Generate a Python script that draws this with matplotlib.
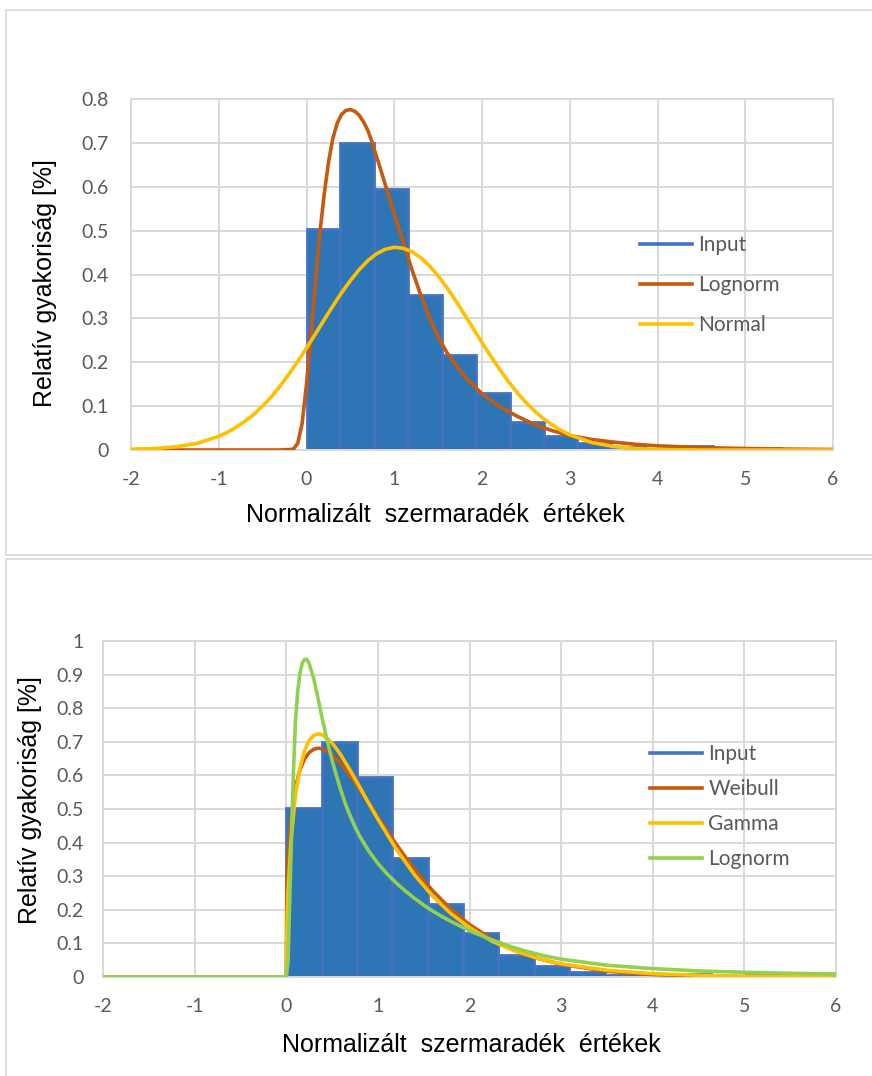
import matplotlib
matplotlib.use("Agg")
import matplotlib.pyplot as plt
from matplotlib.lines import Line2D
from matplotlib.patches import Rectangle
from matplotlib.ticker import FuncFormatter

plt.rcParams["axes.unicode_minus"] = False

# histogram of the normalised residuals (same in both panels)
bin_edges = [0.0, 0.386, 0.772, 1.158, 1.544, 1.93, 2.316, 2.702, 3.088,
             3.474, 3.86, 4.246, 4.632, 5.018, 5.404, 5.79, 6.176]
hist_vals = [0.503, 0.699, 0.594, 0.354, 0.216, 0.130, 0.064, 0.033,
             0.016, 0.007, 0.003, 0.009, 0.002, 0.005, 0.002, 0.001]

# top panel: fitted curves
normal_x = [-2, -1.75, -1.5, -1.25, -1, -0.9, -0.8, -0.7, -0.6, -0.5, -0.4,
            -0.3, -0.2, -0.1, 0, 0.1, 0.2, 0.3, 0.4, 0.5, 0.6, 0.7, 0.8, 0.9,
            1.0, 1.1, 1.2, 1.3, 1.4, 1.5, 1.6, 1.7, 1.8, 1.9, 2.0, 2.1, 2.2,
            2.3, 2.4, 2.5, 2.6, 2.7, 2.8, 2.9, 3.0, 3.25, 3.5, 3.75, 4.0, 4.5,
            5.0, 6.0]
normal_y = [0.002, 0.003, 0.007, 0.015, 0.031, 0.0405, 0.052, 0.0655, 0.081,
            0.1004, 0.121, 0.146, 0.173, 0.2017, 0.2324, 0.264, 0.2964, 0.328,
            0.3585, 0.386, 0.411, 0.432, 0.4474, 0.4576, 0.462, 0.460, 0.4522,
            0.4387, 0.42, 0.3968, 0.37, 0.3404, 0.309, 0.277, 0.245, 0.2138,
            0.184, 0.1565, 0.131, 0.1087, 0.0887, 0.0716, 0.057, 0.0447,
            0.0347, 0.017, 0.008, 0.003, 0.001, 0.0, 0.0, 0.0]

logn_top_x = [-2, -0.3, -0.2, -0.15, -0.1, -0.05, 0, 0.05, 0.1, 0.15, 0.2,
              0.25, 0.3, 0.35, 0.4, 0.45, 0.5, 0.55, 0.6, 0.65, 0.7, 0.75,
              0.8, 0.85, 0.9, 0.95, 1.0, 1.1, 1.2, 1.3, 1.4, 1.5, 1.6, 1.8,
              2.0, 2.2, 2.4, 2.6, 2.8, 3.0, 3.25, 3.5, 3.75, 4.0, 4.5, 5.0,
              5.5, 6.0]
logn_top_y = [0, 0, 0.001, 0.002, 0.015, 0.06, 0.15, 0.26, 0.38, 0.49, 0.58,
              0.655, 0.71, 0.745, 0.765, 0.774, 0.776, 0.772, 0.763, 0.748,
              0.728, 0.70, 0.668, 0.636, 0.603, 0.571, 0.538, 0.475, 0.412,
              0.354, 0.302, 0.258, 0.222, 0.168, 0.128, 0.099, 0.077, 0.058,
              0.044, 0.033, 0.024, 0.018, 0.013, 0.0095, 0.0055, 0.0033,
              0.002, 0.0012]

# bottom panel: fitted curves
weib_x = [-2, 0, 0.005, 0.01, 0.02, 0.05, 0.1, 0.15, 0.2, 0.25, 0.3, 0.35,
          0.4, 0.5, 0.6, 0.7, 0.8, 0.9, 1.0, 1.2, 1.4, 1.6, 1.8, 2.0, 2.25,
          2.5, 2.75, 3.0, 3.5, 4.0, 4.5, 5.0, 5.5, 6.0]
weib_y = [0, 0, 0.2, 0.295, 0.36, 0.47, 0.564, 0.617, 0.649, 0.668, 0.678,
          0.681, 0.679, 0.662, 0.633, 0.598, 0.559, 0.518, 0.476, 0.395, 0.32,
          0.256, 0.201, 0.156, 0.112, 0.079, 0.055, 0.038, 0.017, 0.0074,
          0.0031, 0.0012, 0.0005, 0.0002]

gamma_x = [-2, 0, 0.01, 0.02, 0.05, 0.1, 0.15, 0.2, 0.25, 0.3, 0.35, 0.4,
           0.5, 0.6, 0.7, 0.8, 0.9, 1.0, 1.2, 1.4, 1.6, 1.8, 2.0, 2.25, 2.5,
           2.75, 3.0, 3.5, 4.0, 4.5, 5.0, 5.5, 6.0]
gamma_y = [0, 0, 0.179, 0.256, 0.401, 0.541, 0.623, 0.674, 0.704, 0.719,
           0.724, 0.720, 0.697, 0.659, 0.614, 0.566, 0.517, 0.470, 0.381,
           0.304, 0.240, 0.188, 0.147, 0.106, 0.077, 0.055, 0.039, 0.020,
           0.0098, 0.0049, 0.0024, 0.0012, 0.0006]

logn_bot_x = [-2, 0, 0.02, 0.04, 0.06, 0.08, 0.1, 0.125, 0.15, 0.175, 0.2,
              0.225, 0.25, 0.3, 0.35, 0.4, 0.45, 0.5, 0.55, 0.6, 0.65, 0.7,
              0.75, 0.8, 0.9, 1.0, 1.1, 1.2, 1.3, 1.4, 1.5, 1.6, 1.7, 1.8,
              2.0, 2.2, 2.4, 2.6, 2.8, 3.0, 3.5, 4.0, 4.5, 5.0, 5.5, 6.0]
logn_bot_y = [0, 0, 0.05, 0.25, 0.45, 0.62, 0.76, 0.85, 0.905, 0.935, 0.945,
              0.945, 0.933, 0.888, 0.825, 0.76, 0.70, 0.645, 0.597, 0.552,
              0.512, 0.478, 0.447, 0.42, 0.375, 0.338, 0.307, 0.28, 0.256,
              0.234, 0.214, 0.196, 0.18, 0.165, 0.138, 0.115, 0.095, 0.078,
              0.064, 0.053, 0.035, 0.025, 0.018, 0.014, 0.011, 0.009]

x_label = "Normalizált  szermaradék  értékek"
y_label = "Relatív gyakoriság [%]"

BLUE_FILL = "#2E75B6"
BLUE = "#4472C4"
ORANGE = "#C55A11"
YELLOW = "#FFC000"
GREEN = "#92D050"
GRID = "#D9D9D9"
TXT = "#595959"

W, H = 872, 1076
fig = plt.figure(figsize=(W / 100, H / 100), dpi=100)


def fx(px):
    return px / W


def fy(px):
    return 1 - px / H


# chart frames like in Excel
for top, bot in [(10, 555), (559, 1090)]:
    fig.patches.append(Rectangle((fx(6), fy(bot)), fx(900), (bot - top) / H,
                                 transform=fig.transFigure, fill=False,
                                 edgecolor=GRID, lw=1.2))


def style_axes(ax, ymax, ypad):
    ax.set_xlim(-2, 6)
    ax.set_ylim(0, ymax)
    ax.set_xticks(range(-2, 7))
    ax.set_yticks([i / 10 for i in range(int(round(ymax * 10)) + 1)])
    ax.yaxis.set_major_formatter(FuncFormatter(lambda v, p: "%g" % round(v, 1)))
    ax.grid(True, color=GRID, lw=1.4)
    ax.set_axisbelow(True)
    for s in ax.spines.values():
        s.set_color(GRID)
        s.set_linewidth(1.4)
    ax.tick_params(length=0, labelsize=14, labelcolor=TXT)
    ax.tick_params(axis="y", pad=ypad)
    ax.tick_params(axis="x", pad=15)
    for lab in ax.get_xticklabels() + ax.get_yticklabels():
        lab.set_family("Lato")


def draw_hist(ax):
    ax.bar(bin_edges[:-1], hist_vals,
           width=[b - a for a, b in zip(bin_edges[:-1], bin_edges[1:])],
           align="edge", color=BLUE_FILL, edgecolor=BLUE, linewidth=2, zorder=2)


def add_legend(handles, labels, left, top, spacing):
    leg = fig.legend(handles, labels, loc="upper left",
                     bbox_to_anchor=(fx(left), fy(top)), frameon=False,
                     handlelength=2.5, handletextpad=0.3, labelspacing=spacing,
                     borderpad=0, borderaxespad=0,
                     prop={"family": "Lato", "size": 15})
    for t in leg.get_texts():
        t.set_color(TXT)


# ---- top chart
ax1 = fig.add_axes([fx(131), fy(450), fx(833 - 131), (450 - 99) / H])
draw_hist(ax1)
ax1.plot(logn_top_x, logn_top_y, color=ORANGE, lw=2.6, zorder=3)
ax1.plot(normal_x, normal_y, color=YELLOW, lw=2.6, zorder=4)
style_axes(ax1, 0.8, 16)
add_legend([Line2D([], [], color=c, lw=2.6) for c in (BLUE, ORANGE, YELLOW)],
           ["Input", "Lognorm", "Normal"], 640, 235, 0.96)
fig.text(fx(45), fy(283), y_label, rotation=90, ha="center", va="center",
         fontsize=18, family="Liberation Sans", color="black")
fig.text(fx(435), fy(515), x_label, ha="center", va="center",
         fontsize=18, family="Liberation Sans", color="black")

# ---- bottom chart
ax2 = fig.add_axes([fx(103), fy(977), fx(836 - 103), (977 - 641) / H])
draw_hist(ax2)
ax2.plot(weib_x, weib_y, color=ORANGE, lw=2.6, zorder=3)
ax2.plot(gamma_x, gamma_y, color=YELLOW, lw=2.6, zorder=4)
ax2.plot(logn_bot_x, logn_bot_y, color=GREEN, lw=2.6, zorder=5)
style_axes(ax2, 1.0, 14)
add_legend([Line2D([], [], color=c, lw=2.6)
            for c in (BLUE, ORANGE, YELLOW, GREEN)],
           ["Input", "Weibull", "Gamma", "Lognorm"], 650, 744, 0.72)
fig.text(fx(30), fy(800), y_label, rotation=90, ha="center", va="center",
         fontsize=18, family="Liberation Sans", color="black")
fig.text(fx(471), fy(1045), x_label, ha="center", va="center",
         fontsize=18, family="Liberation Sans", color="black")

fig.savefig("out.png", dpi=100, facecolor="white")
